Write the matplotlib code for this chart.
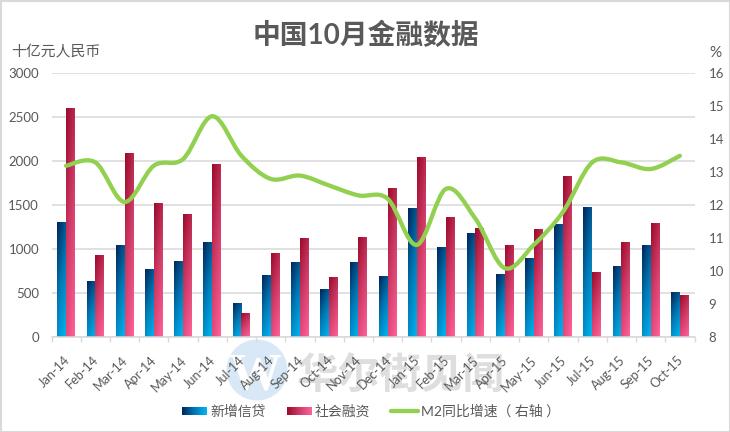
import numpy as np
import matplotlib
matplotlib.use('Agg')
import matplotlib.pyplot as plt
from matplotlib.path import Path
from matplotlib.patches import PathPatch, Circle, Rectangle
from matplotlib.colors import LinearSegmentedColormap

plt.rcParams['font.family'] = ['Lato', 'Noto Sans CJK SC', 'DejaVu Sans']

months = ['Jan-14', 'Feb-14', 'Mar-14', 'Apr-14', 'May-14', 'Jun-14', 'Jul-14', 'Aug-14', 'Sep-14', 'Oct-14', 'Nov-14',
          'Dec-14', 'Jan-15', 'Feb-15', 'Mar-15', 'Apr-15', 'May-15', 'Jun-15', 'Jul-15', 'Aug-15', 'Sep-15', 'Oct-15']
new_loans = [1305, 635, 1045, 770, 860, 1075, 385, 695, 852, 545, 850, 692, 1465, 1015, 1175, 705, 895, 1275, 1475, 805, 1045, 510]
social_fin = [2595, 930, 2080, 1520, 1395, 1955, 272, 950, 1125, 672, 1135, 1685, 2035, 1355, 1235, 1045, 1225, 1825, 737, 1075, 1295, 475]
m2_growth = [13.2, 13.3, 12.1, 13.2, 13.4, 14.7, 13.5, 12.8, 12.9, 12.6, 12.3, 12.2, 10.8, 12.5, 11.6, 10.1, 10.8, 11.8, 13.3, 13.3, 13.1, 13.5]

GREY = '#595959'
GRID = '#d9d9d9'
blue_cm = LinearSegmentedColormap.from_list('b', ['#00285c', '#0078b4', '#00b4f0'])
red_cm = LinearSegmentedColormap.from_list('r', ['#9c0c2c', '#d03c68', '#ff6098'])


def gradient(w=8, h=32):
    xx, yy = np.meshgrid(np.linspace(0, 1, w), np.linspace(0, 1, h))
    return 0.3 * xx + 0.7 * yy


def fill_bars(axis, bars, cmap):
    # swap the flat bar faces for a diagonal gradient
    for b in bars:
        x0, y0, w, h = b.get_x(), b.get_y(), b.get_width(), b.get_height()
        b.set_visible(False)
        axis.imshow(gradient(), cmap=cmap, vmin=0, vmax=1, aspect='auto', origin='upper',
                    extent=(x0, x0 + w, y0, y0 + h), zorder=2)


fig = plt.figure(figsize=(7.3, 4.32), dpi=100, facecolor='white')

# overlay in pixel coords for frame, watermark and legend
bg = fig.add_axes([0, 0, 1, 1], zorder=0)
bg.set_xlim(0, 730)
bg.set_ylim(432, 0)
bg.axis('off')
bg.add_patch(Rectangle((0.5, 0.5), 729, 431, fc='none', ec=GRID, lw=1.5))
bg.add_patch(Circle((257, 370), 30.5, fc='#d8e8f6', ec='none'))
bg.text(255, 389, 'W', color='white', fontsize=38, family='Liberation Serif', weight='bold', ha='center', va='baseline')
bg.text(401, 388, '华尔街见闻', color='#dedede', fontsize=30, weight='bold', ha='center', va='baseline')

W, H = 730, 432
left, right, top, bottom = 51.5, 694.5, 73.3, 337.3
ax = fig.add_axes([left / W, 1 - bottom / H, (right - left) / W, (bottom - top) / H], zorder=1)
ax.patch.set_alpha(0)

x = np.arange(len(months))
bw = 0.3
bars1 = ax.bar(x - bw / 2, new_loans, bw)
bars2 = ax.bar(x + bw / 2, social_fin, bw)
fill_bars(ax, bars1, blue_cm)
fill_bars(ax, bars2, red_cm)

ax.set_xlim(-0.5, len(months) - 0.5)
ax.set_ylim(0, 3000)
ax.set_yticks(range(0, 3001, 500))
ax.grid(axis='y', color=GRID, lw=1.1)
ax.set_axisbelow(True)
for s in ['top', 'left', 'right']:
    ax.spines[s].set_visible(False)
ax.spines['bottom'].set_color(GRID)
ax.spines['bottom'].set_linewidth(1.1)
ax.set_xticks(list(x - 0.5) + [len(months) - 0.5])
ax.set_xticklabels([''] * (len(months) + 1))
ax.tick_params(axis='x', length=3.5, width=1, color=GRID)
ax.tick_params(axis='y', length=0, pad=9, labelsize=9.5, labelcolor=GREY)
for xi, m in zip(x, months):
    ax.annotate(m, (xi, 0), xytext=(-2, -12), textcoords='offset points', rotation=45, ha='right', va='top',
                rotation_mode='anchor', color=GREY, fontsize=9.2)

ax2 = ax.twinx()
ax2.set_zorder(2)
ax2.patch.set_alpha(0)
ax2.set_ylim(8, 16)
ax2.set_yticks(range(8, 17))
ax2.tick_params(axis='y', length=0, pad=10, labelsize=9.5, labelcolor=GREY)
for s in ax2.spines.values():
    s.set_visible(False)

# smooth line like excel: bezier through the monthly values
pts = np.column_stack([x, m2_growth]).astype(float)
verts = [pts[0]]
codes = [Path.MOVETO]
for i in range(len(pts) - 1):
    p0 = pts[max(i - 1, 0)]
    p1 = pts[i]
    p2 = pts[i + 1]
    p3 = pts[min(i + 2, len(pts) - 1)]
    verts += [p1 + (p2 - p0) / 6, p2 - (p3 - p1) / 6, p2]
    codes += [Path.CURVE4] * 3
ax2.add_patch(PathPatch(Path(verts, codes), fc='none', ec='#92d050', lw=3.1, capstyle='round', zorder=5))

# text and legend on top
fg = fig.add_axes([0, 0, 1, 1], zorder=3)
fg.set_xlim(0, 730)
fg.set_ylim(432, 0)
fg.axis('off')
fg.text(366, 35.5, '中国10月金融数据', color=GREY, fontsize=20, weight='bold', ha='center', va='center')
fg.text(11, 52, '十亿元人民币', color=GREY, fontsize=10.7, ha='left', va='center')
fg.text(721, 53, '%', color=GREY, fontsize=11, ha='right', va='center')

grad = np.linspace(0, 1, 20).reshape(1, -1)
fg.imshow(grad, cmap=blue_cm, aspect='auto', extent=(182, 207, 415, 407), zorder=2)
fg.imshow(grad, cmap=red_cm, aspect='auto', extent=(287, 312, 415, 407), zorder=2)
fg.set_xlim(0, 730)
fg.set_ylim(432, 0)
fg.plot([391, 418], [411, 411], color='#92d050', lw=3.1, solid_capstyle='round')
fg.text(210, 411, '新增信贷', color=GREY, fontsize=10, ha='left', va='center')
fg.text(315, 411, '社会融资', color=GREY, fontsize=10, ha='left', va='center')
fg.text(421, 411, 'M2同比增速（ 右轴 ）', color=GREY, fontsize=10, ha='left', va='center')

fig.savefig('out.png', dpi=100)
